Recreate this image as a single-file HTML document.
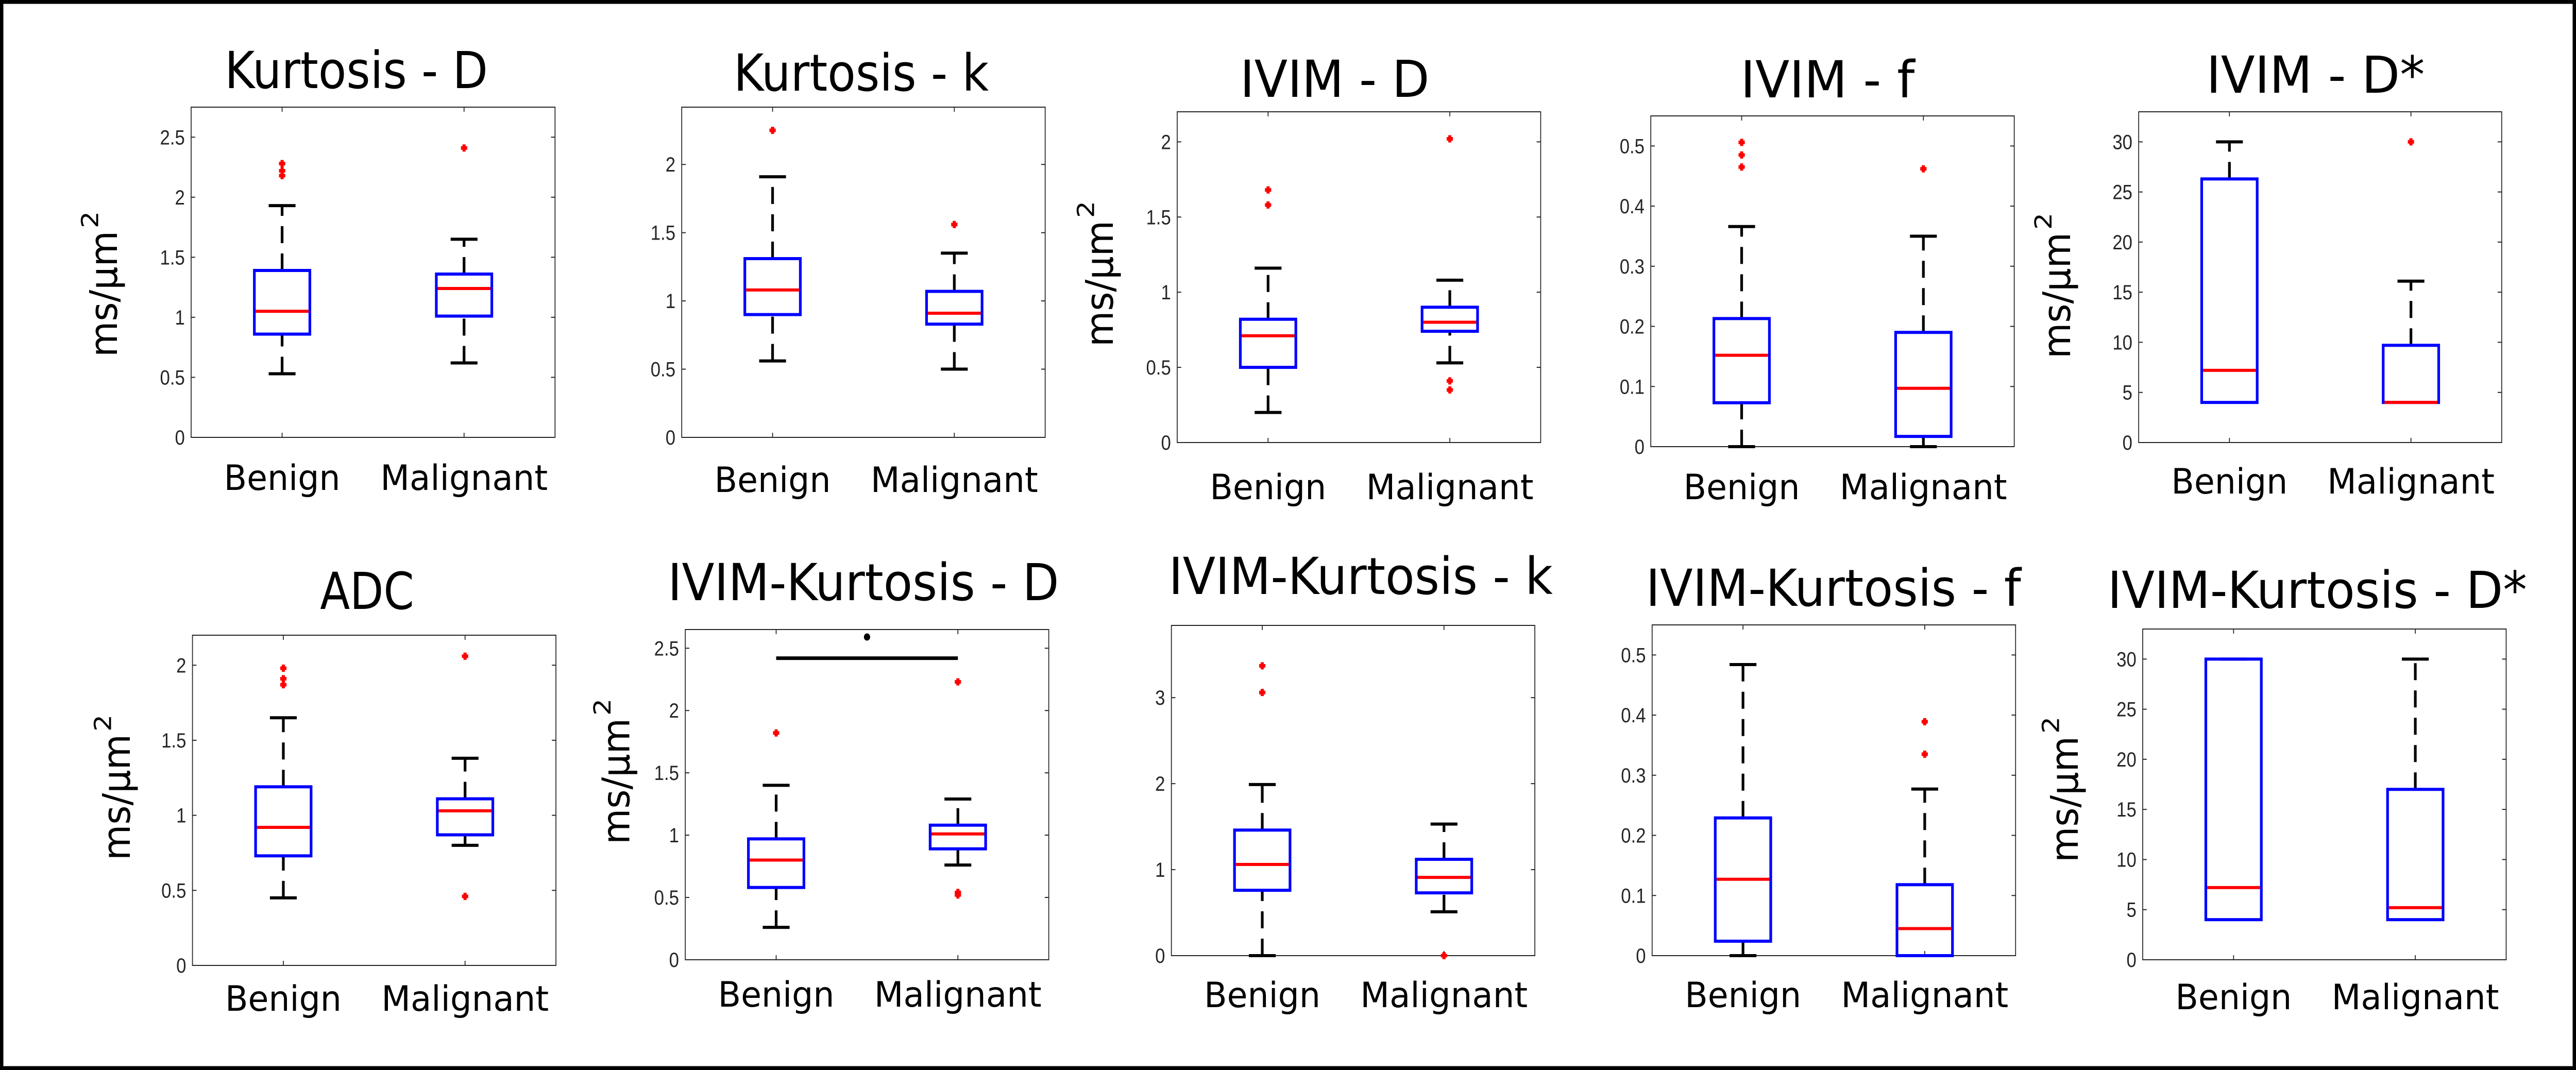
<!DOCTYPE html>
<html><head><meta charset="utf-8"><style>
html,body{margin:0;padding:0;background:#fff;overflow:hidden;width:100%;height:100%;}
svg{display:block;width:100vw;height:100vh;}
</style></head><body>
<svg id="fig" xmlns="http://www.w3.org/2000/svg" viewBox="0 0 5755 2077" preserveAspectRatio="none">
<rect x="0" y="0" width="5755" height="2077" fill="#fff"/>
<rect x="3.5" y="3.5" width="5748" height="2070" fill="none" stroke="#000" stroke-width="8"/>
</svg>
<script>
const categories = ["Benign", "Malignant"];
const titles = ["Kurtosis - D","Kurtosis - k","IVIM - D","IVIM - f","IVIM - D*","ADC","IVIM-Kurtosis - D","IVIM-Kurtosis - k","IVIM-Kurtosis - f","IVIM-Kurtosis - D*"];
const yMax = [2.75, 2.42, 2.2, 0.55, 33, 2.2, 2.65, 3.84, 0.55, 33];
const yTickStep = [0.5, 0.5, 0.5, 0.1, 5, 0.5, 0.5, 1, 0.1, 5];
const yTickMax = [2.5, 2, 2, 0.5, 30, 2, 2.5, 3, 0.5, 30];
const benignMin = [0.53, 0.56, 0.2, 0, 4, 0.45, 0.26, 0, 0, 4];
const benignQ1 = [0.86, 0.9, 0.5, 0.073, 4, 0.73, 0.58, 0.76, 0.024, 4];
const benignMedian = [1.05, 1.08, 0.71, 0.152, 7.2, 0.92, 0.8, 1.06, 0.127, 7.2];
const benignQ3 = [1.39, 1.31, 0.82, 0.213, 26.3, 1.19, 0.97, 1.46, 0.229, 30];
const benignMax = [1.93, 1.91, 1.16, 0.366, 30, 1.65, 1.4, 1.99, 0.484, 30];
const benignOutliers = [[2.18,2.22,2.28],[2.25],[1.58,1.68],[0.465,0.485,0.506],[],[1.87,1.91,1.98],[1.82],[3.06,3.37],[],[]];
const malignantMin = [0.62, 0.5, 0.53, 0, 4, 0.8, 0.76, 0.51, 0, 4];
const malignantQ1 = [1.01, 0.83, 0.74, 0.017, 4, 0.87, 0.89, 0.73, 0, 4];
const malignantMedian = [1.24, 0.91, 0.8, 0.097, 4, 1.03, 1.01, 0.91, 0.045, 5.2];
const malignantQ3 = [1.36, 1.07, 0.9, 0.19, 9.7, 1.11, 1.08, 1.12, 0.118, 17];
const malignantMax = [1.65, 1.35, 1.08, 0.35, 16.1, 1.38, 1.29, 1.53, 0.277, 30];
const malignantOutliers = [[2.41],[1.56],[0.35,0.41,2.02],[0.462],[30],[0.46,2.06],[0.52,0.54,2.23],[0],[0.335,0.389],[]];
const sigBarLevel = [null,null,null,null,null,null,2.42,null,null,null];
const sigDotLevel = [null,null,null,null,null,null,2.59,null,null,null];

// layout (pixels) – not data
const layout = [
 {L:427,R:1240,T:208,B:849,tx:796,ty:171,tw:588,xb:951,yl:[261,693]},
 {L:1523,R:2335,T:208,B:849,tx:1924,ty:176,tw:570,xb:955,yl:null},
 {L:2630,R:3442,T:217,B:859,tx:2982,ty:188,tw:423,xb:969,yl:[2486,673]},
 {L:3688,R:4500,T:225,B:867,tx:4083,ty:189,tw:389,xb:969,yl:null},
 {L:4778,R:5589,T:217,B:859,tx:5173,ty:180,tw:488,xb:958,yl:[4625,696]},
 {L:430,R:1242,T:1233,B:1874,tx:820,ty:1182,tw:210,xb:1962,yl:[290,1670]},
 {L:1531,R:2343,T:1222,B:1863,tx:1929,ty:1165,tw:874,xb:1954,yl:[1406,1639]},
 {L:2617,R:3429,T:1214,B:1855,tx:3040,ty:1153,tw:858,xb:1955,yl:null},
 {L:3691,R:4503,T:1213,B:1855,tx:4096,ty:1176,tw:838,xb:1955,yl:null},
 {L:4787,R:5599,T:1221,B:1863,tx:5177,ty:1180,tw:937,xb:1959,yl:[4642,1674]}
];
const labelWidths = [260, 374];

const NS = "http://www.w3.org/2000/svg";
const svg = document.getElementById("fig");
function mk(tag, attrs, parent) {
  const e = document.createElementNS(NS, tag);
  for (const k in attrs) e.setAttribute(k, attrs[k]);
  (parent || svg).appendChild(e);
  return e;
}
const FONT = '"DejaVu Sans", "Liberation Sans", sans-serif';

for (let p = 0; p < 10; p++) {
  const lay = layout[p];
  const g = mk("g", {});
  
  
  const sx = c => lay.L + (c + 0.5) / 2 * (lay.R - lay.L);
  const sy = v => lay.B - v / yMax[p] * (lay.B - lay.T);

  const t = mk("text", {x: lay.tx, y: lay.ty, "text-anchor": "middle", "font-family": FONT, "font-size": 99, fill: "#000", textLength: lay.tw, lengthAdjust: "spacingAndGlyphs"}, g);
  t.textContent = titles[p];
  
  

  const fr = mk("rect", {x: lay.L, y: lay.T, width: lay.R - lay.L, height: lay.B - lay.T, fill: "none", stroke: "#262626", "stroke-width": 2}, g);
  
  

  const nT = Math.round(yTickMax[p] / yTickStep[p]);
  for (let i = 0; i <= nT; i++) {
    const v = i * yTickStep[p];
    const y = sy(v);
    const tl = mk("line", {x1: lay.L, x2: lay.L + 9, y1: y, y2: y, stroke: "#262626", "stroke-width": 2}, g);
    
    
    const tr = mk("line", {x1: lay.R, x2: lay.R - 9, y1: y, y2: y, stroke: "#262626", "stroke-width": 2}, g);
    
    
    const lb = mk("text", {x: lay.L - 14, y: y + 14, "text-anchor": "end", "font-family": '"Liberation Sans", sans-serif', "font-size": 40, fill: "#262626"}, g);
    lb.textContent = String(parseFloat(v.toFixed(2)));
    
    
  }

  for (let c = 0; c < 2; c++) {
    const x = sx(c);
    const a = mk("line", {x1: x, x2: x, y1: lay.B, y2: lay.B - 9, stroke: "#262626", "stroke-width": 2}, g);
    
    
    const b = mk("line", {x1: x, x2: x, y1: lay.T, y2: lay.T + 9, stroke: "#262626", "stroke-width": 2}, g);
    
    
    const xl = mk("text", {x: x, y: lay.xb, "text-anchor": "middle", "font-family": FONT, "font-size": 68, fill: "#000", textLength: labelWidths[c], lengthAdjust: "spacingAndGlyphs"}, g);
    xl.textContent = categories[c];
    
    
  }

  if (lay.yl) {
    const yg = mk("g", {transform: "translate(" + lay.yl[0] + "," + lay.yl[1] + ") rotate(-90)"}, g);
    
    
    const y1 = mk("text", {x: 0, y: 0, "font-family": FONT, "font-size": 85, fill: "#000", textLength: 245, lengthAdjust: "spacingAndGlyphs"}, yg);
    y1.textContent = "ms/μm";
    
    
    const y2 = mk("text", {x: 250, y: -42, "font-family": FONT, "font-size": 52, fill: "#000"}, yg);
    y2.textContent = "2";
    
    
  }

  const stats = [
    [benignMin[p], benignQ1[p], benignMedian[p], benignQ3[p], benignMax[p], benignOutliers[p]],
    [malignantMin[p], malignantQ1[p], malignantMedian[p], malignantQ3[p], malignantMax[p], malignantOutliers[p]]
  ];
  for (let c = 0; c < 2; c++) {
    const [lo, q1, med, q3, hi, outs] = stats[c];
    const x = sx(c);
    const hw = 62, cw = 30;
    const bg = mk("g", {}, g);
    
    
    if (hi > q3) {
      const w = mk("line", {x1: x, x2: x, y1: sy(q3), y2: sy(hi), stroke: "#000", "stroke-width": 6, "stroke-dasharray": "33 20"}, bg);
      
      
    }
    const cu = mk("line", {x1: x - cw, x2: x + cw, y1: sy(hi), y2: sy(hi), stroke: "#000", "stroke-width": 6}, bg);
    
    
    if (q1 > lo) {
      const w2 = mk("line", {x1: x, x2: x, y1: sy(lo), y2: sy(q1), stroke: "#000", "stroke-width": 6, "stroke-dasharray": "33 20"}, bg);
      
      
      const cl = mk("line", {x1: x - cw, x2: x + cw, y1: sy(lo), y2: sy(lo), stroke: "#000", "stroke-width": 6}, bg);
      
      
    }
    const r = mk("rect", {x: x - hw, y: sy(q3), width: 2 * hw, height: Math.max(0, sy(q1) - sy(q3)), fill: "none", stroke: "#0000ff", "stroke-width": 6}, bg);
    
    
    const m = mk("line", {x1: x - hw + 3, x2: x + hw - 3, y1: sy(med), y2: sy(med), stroke: "#ff0000", "stroke-width": 6}, bg);
    
    
    for (const o of outs) {
      const oy = sy(o);
      const og = mk("g", {}, bg);
      
      
      mk("line", {x1: x - 7, x2: x + 7, y1: oy, y2: oy, stroke: "#ff0000", "stroke-width": 7}, og);
      mk("line", {x1: x, x2: x, y1: oy - 7, y2: oy + 7, stroke: "#ff0000", "stroke-width": 7}, og);
    }
  }

  if (sigBarLevel[p] !== null) {
    const sb = mk("line", {x1: sx(0), x2: sx(1), y1: sy(sigBarLevel[p]), y2: sy(sigBarLevel[p]), stroke: "#000", "stroke-width": 7}, g);
    
    
    const sd = mk("circle", {cx: (sx(0) + sx(1)) / 2, cy: sy(sigDotLevel[p]), r: 7, fill: "#000"}, g);
    
    
  }
}
</script>
</body></html>
